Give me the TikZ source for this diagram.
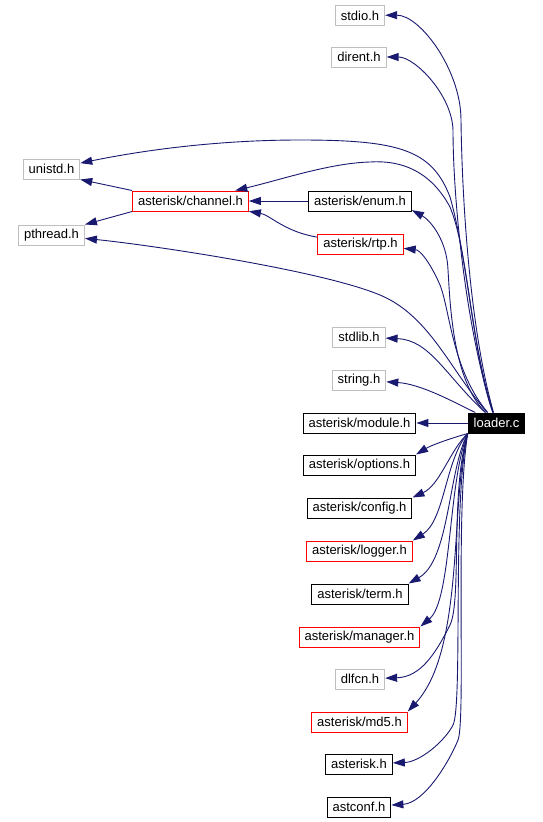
\documentclass[tikz,border=0pt]{standalone}
\usepackage{fontspec}
\setmainfont{Liberation Sans}
\usetikzlibrary{arrows.meta}
\definecolor{edgeblue}{HTML}{191970}
\definecolor{boxgray}{HTML}{BFBFBF}

\begin{document}
\begin{tikzpicture}[x=1pt, y=-1pt,
  hdr/.style={draw=#1, line width=1pt, inner xsep=5.5pt, inner ysep=0pt,
    minimum height=20pt, font=\fontsize{13}{15}\selectfont},
  hdr/.default=black,
  dep/.style={->, edgeblue, line width=0.9pt},
  >={Triangle[length=12pt,width=8pt]}
]
\useasboundingbox (0,0) rectangle (542,822);

% System headers
\node[hdr=boxgray] (stdio) at (360,15.5) {stdio.h};
\node[hdr=boxgray] (dirent) at (359,57) {dirent.h};
\node[hdr=boxgray] (unistd) at (51.5,169) {unistd.h};
\node[hdr=boxgray] (pthread) at (51.5,235) {pthread.h};
\node[hdr=boxgray] (stdlib) at (359,337) {stdlib.h};
\node[hdr=boxgray] (string) at (359,380) {string.h};
\node[hdr=boxgray] (dlfcn) at (360,679) {dlfcn.h};

% Asterisk headers
\node[hdr=red] (channel) at (190.5,201) {asterisk/channel.h};
\node[hdr] (enum) at (360,201) {asterisk/enum.h};
\node[hdr=red] (rtp) at (360.5,244) {asterisk/rtp.h};
\node[hdr] (module) at (359.5,423) {asterisk/module.h};
\node[hdr] (options) at (359.5,465) {asterisk/options.h};
\node[hdr] (config) at (359.5,508) {asterisk/config.h};
\node[hdr=red] (logger) at (359.5,551) {asterisk/logger.h};
\node[hdr] (term) at (360,594) {asterisk/term.h};
\node[hdr=red] (manager) at (359.5,637) {asterisk/manager.h};
\node[hdr=red] (md5) at (359.5,722) {asterisk/md5.h};
\node[hdr] (asteriskh) at (359,764) {asterisk.h};
\node[hdr] (astconf) at (359,807) {astconf.h};

% The source file
\node[hdr, fill=black, text=white] (loader) at (496.5,423) {loader.c};

% Includes of channel.h and friends
\draw[dep] (channel.north west) -- (unistd.south east);
\draw[dep] (channel.south west) -- (pthread.north east);
\draw[dep] (enum) -- (channel);
\draw[dep] (rtp) .. controls (285,232) and (270,215) .. (channel);

% Includes going up from loader.c
\draw[dep] (loader) .. controls (470,330) and (462,200) .. (461,120)
  .. controls (461,70) and (420,15) .. (stdio);
\draw[dep] (loader) .. controls (466,330) and (453,200) .. (453,130)
  .. controls (452,95) and (415,57) .. (dirent);
\draw[dep] (loader) .. controls (474,360) and (468,260) .. (450,197)
  .. controls (432,150) and (400,140) .. (300,140)
  .. controls (200,140) and (120,155) .. (unistd);
\draw[dep] (loader) .. controls (470,340) and (468,250) .. (450,207)
  .. controls (430,170) and (400,160) .. (370,162)
  .. controls (330,163) and (280,180) .. (channel);
\draw[dep] (loader) .. controls (450,370) and (430,316) .. (380,295)
  .. controls (320,270) and (150,245) .. (pthread);
\draw[dep] (loader) .. controls (452,380) and (450,300) .. (448,270)
  .. controls (447,240) and (430,220) .. (enum.-10);
\draw[dep] (loader) .. controls (452,370) and (450,310) .. (440,285)
  .. controls (430,262) and (420,250) .. (rtp);
\draw[dep] (loader) .. controls (445,375) and (430,340) .. (stdlib);
\draw[dep] (loader) .. controls (450,400) and (420,384) .. (string);
\draw[dep] (loader) -- (module);

% Includes going down from loader.c
\draw[dep] (loader.south west) .. controls (445,440) and (430,446) .. (options.north east);
\draw[dep] (loader.south west) .. controls (450,450) and (440,485) .. (config.north east);
\draw[dep] (loader.south west) .. controls (445,460) and (445,520) .. (logger.north east);
\draw[dep] (loader.south west) .. controls (448,470) and (450,560) .. (term.north east);
\draw[dep] (loader.south west) .. controls (448,480) and (452,600) .. (manager.north east);
\draw[dep] (loader.south west) .. controls (450,490) and (462,600) .. (450,625)
  .. controls (435,655) and (420,677) .. (dlfcn);
\draw[dep] (loader.south west) .. controls (450,500) and (465,650) .. (md5.north east);
\draw[dep] (loader.south west) .. controls (452,500) and (463,705) .. (453,725)
  .. controls (445,741) and (420,762) .. (asteriskh);
\draw[dep] (loader.south west) .. controls (455,510) and (466,720) .. (458,740)
  .. controls (450,760) and (425,803) .. (astconf);

\end{tikzpicture}
\end{document}
